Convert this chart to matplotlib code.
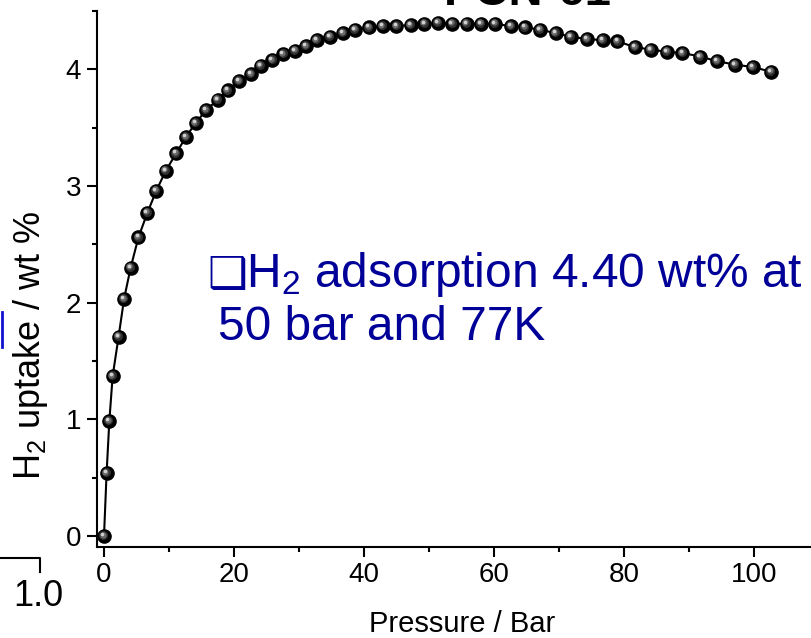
import matplotlib
matplotlib.use("Agg")
import matplotlib.pyplot as plt
import matplotlib.transforms as mtransforms
from matplotlib.ticker import MultipleLocator

plt.rcParams['font.family'] = ['Liberation Sans', 'DejaVu Sans']
plt.rcParams['mathtext.fontset'] = 'custom'
plt.rcParams['mathtext.rm'] = 'Liberation Sans'
plt.rcParams['mathtext.it'] = 'Liberation Sans:italic'

# H2 isotherm
pressure = [0.0, 0.4, 0.82, 1.33, 2.25, 3.08, 4.1, 5.3, 6.67, 8.05, 9.5, 11.1,
            12.6, 14.1, 15.7, 17.5, 19.0, 20.8, 22.6, 24.1, 25.9, 27.6, 29.4,
            31.1, 32.7, 34.8, 36.8, 38.6, 40.8, 42.9, 45.0, 47.2, 49.3, 51.4,
            53.6, 55.8, 58.0, 60.2, 62.6, 64.8, 67.1, 69.5, 71.8, 74.3, 76.7,
            79.0, 81.7, 84.1, 86.6, 89.0, 91.7, 94.3, 97.1, 99.8, 102.6]
uptake = [0.00, 0.54, 0.985, 1.37, 1.71, 2.03, 2.30, 2.56, 2.77, 2.96, 3.13, 3.28,
          3.42, 3.54, 3.65, 3.74, 3.82, 3.90, 3.96, 4.03, 4.08, 4.13, 4.16,
          4.20, 4.25, 4.28, 4.31, 4.34, 4.36, 4.37, 4.37, 4.38, 4.39, 4.40,
          4.39, 4.39, 4.39, 4.39, 4.37, 4.36, 4.34, 4.31, 4.28, 4.26, 4.25,
          4.24, 4.19, 4.17, 4.15, 4.14, 4.11, 4.07, 4.04, 4.02, 3.98]

xticks = [0, 20, 40, 60, 80, 100]
yticks = [0, 1, 2, 3, 4]

W, H = 811, 638
fig = plt.figure(figsize=(W / 100, H / 100), dpi=100)
ax = fig.add_axes([97 / W, (H - 547) / H, 1 - 97 / W, (547 - 11) / H])

ax.plot(pressure, uptake, color='black', lw=1.5, zorder=2)
ax.plot(pressure, uptake, 'o', ms=9.5, color='black', mec='black', zorder=3)
# fake sphere shading
for dx, ms, col in [(-0.6, 6.5, '#303030'), (-1.0, 4.5, '#6a6a6a'), (-1.4, 2.6, '#d0d0d0')]:
    tr = mtransforms.offset_copy(ax.transData, fig=fig, x=dx, y=-dx, units='points')
    ax.plot(pressure, uptake, 'o', ms=ms, color=col, mec='none', transform=tr, zorder=4)

ax.set_xlim(-7 / 6.5, 707 / 6.5)
ax.set_ylim(-11 / 116.7, 4.5)
ax.set_xticks(xticks)
ax.set_yticks(yticks)
ax.xaxis.set_minor_locator(MultipleLocator(10))
ax.yaxis.set_minor_locator(MultipleLocator(0.5))
ax.tick_params(which='major', direction='out', length=7.5, width=1.5, labelsize=20)
ax.tick_params(which='minor', direction='out', length=3.6, width=1.5)
ax.tick_params(axis='x', pad=3)
ax.tick_params(axis='y', pad=4)
for s in ['top', 'right']:
    ax.spines[s].set_visible(False)
for s in ['left', 'bottom']:
    ax.spines[s].set_linewidth(1.5)

fig.text(462 / W, 1 - 632 / H, 'Pressure / Bar', fontsize=21, ha='center', va='baseline')
fig.text(50 / W, 1 - 345 / H, 'H$_\\mathregular{2}$ uptake / wt %', fontsize=26,
         rotation=90, ha='right', va='center')

# annotation from the slide
blue = '#000099'
fig.text(207 / W, 1 - 288 / H, '\u2751', fontsize=32, color=blue, family='DejaVu Sans',
         va='baseline')
fig.text(246 / W, 1 - 287 / H, 'H$_\\mathregular{2}$ adsorption 4.40 wt% at', fontsize=34.5,
         color=blue, va='baseline')
fig.text(218 / W, 1 - 340 / H, '50 bar and 77K', fontsize=34.5, color=blue, va='baseline')

# cut-off pieces of the slide around the chart
fig.text(444 / W, 1 - 5 / H, 'PCN-61', fontsize=34, fontweight='bold', va='baseline')
fig.add_artist(plt.Line2D([1.5 / W, 1.5 / W], [1 - 312 / H, 1 - 347 / H],
                          color='#1010d0', lw=2))
fig.add_artist(plt.Line2D([0, 40 / W, 40 / W], [1 - 558 / H, 1 - 558 / H, 1 - 572 / H],
                          color='black', lw=1.5))
fig.text(63 / W, 1 - 606 / H, '1.0', fontsize=26, ha='right', va='baseline')

fig.savefig('out.png', dpi=100)
